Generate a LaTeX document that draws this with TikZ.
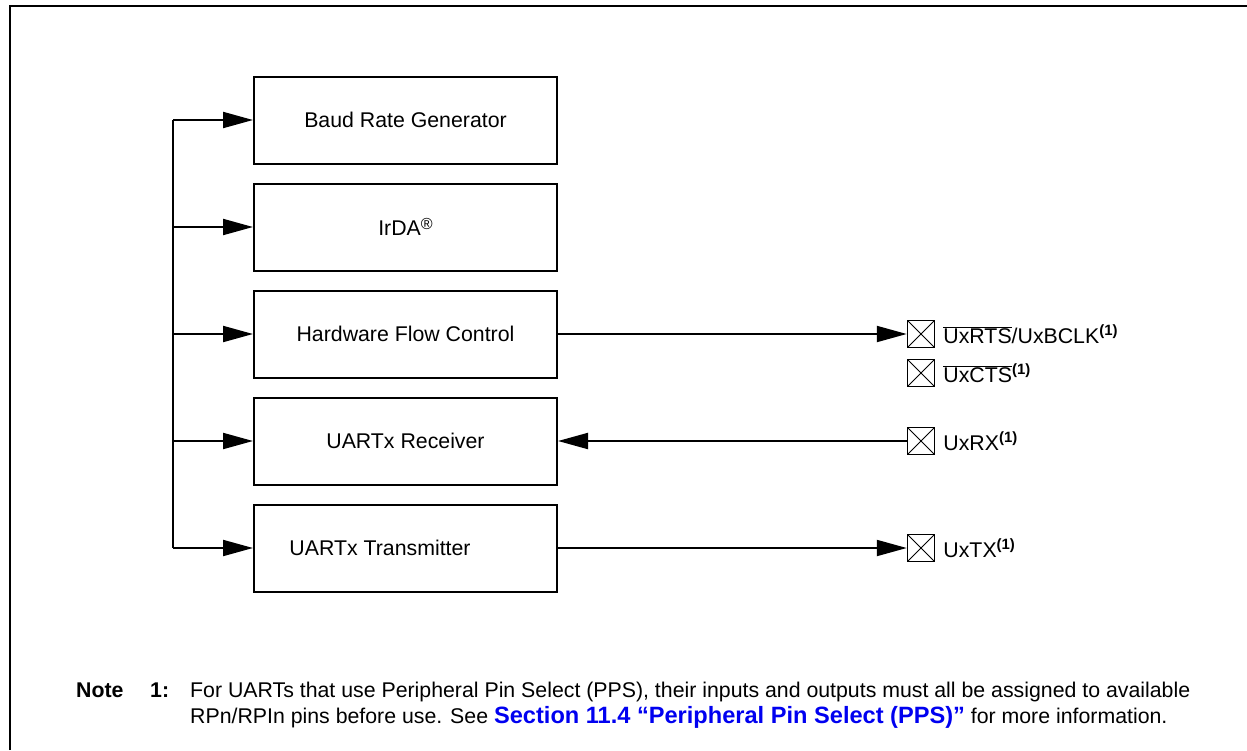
\documentclass[tikz,border=0pt]{standalone}
\usepackage{fontspec}
\setmainfont{Liberation Sans}
\usepackage{xcolor}
\usepackage{tikz}
\usetikzlibrary{arrows.meta,positioning}
\definecolor{cLink}{RGB}{0,0,240}
\newcommand{\fnote}{\textsuperscript{\textbf{(1)}}}

\begin{document}
\begin{tikzpicture}[x=1pt,y=-1pt,
  font=\fontsize{21.3}{25}\selectfont,
  blk/.style={draw,line width=2pt,minimum width=303pt,minimum height=87pt,inner sep=0pt},
  wire/.style={line width=2pt},
  sig/.style={line width=2pt,-{Triangle[length=30pt,width=16pt]}},
  pinbox/.style={draw,line width=1.5pt,minimum size=27pt,inner sep=0pt,
    path picture={\draw[line width=1pt] (path picture bounding box.north west) -- (path picture bounding box.south east)
      (path picture bounding box.south west) -- (path picture bounding box.north east);}},
  pinlbl/.style={right=8pt of #1,inner sep=0pt}]
  \useasboundingbox (0,0) rectangle (1247,750);
  % frame (cut off at right and bottom)
  \draw[line width=2pt] (10,750) -- (10,6) -- (1247,6);
  % blocks
  \node[blk] (brg) at (405.5,120) {Baud Rate Generator};
  \node[blk] (irda) at (405.5,227) {IrDA\raisebox{0.55ex}{\fontsize{16}{16}\selectfont\textregistered}};
  \node[blk] (hfc) at (405.5,334) {Hardware Flow Control};
  \node[blk] (rx) at (405.5,441) {UARTx Receiver};
  \node[blk] (tx) at (405.5,548) {\hspace*{-51pt}UARTx Transmitter};
  % bus on the left
  \coordinate (bus1) at (173,120);
  \coordinate (bus5) at (173,548);
  \draw[wire] (bus1) -- (bus5);
  \foreach \b in {brg,irda,hfc,rx,tx}
    \draw[sig] (bus1 |- \b.west) -- (\b.west);
  % pins
  \node[pinbox] (prts) at (921,334) {};
  \node[pinbox] (pcts) at (921,373) {};
  \node[pinbox] (prx) at (921,441) {};
  \node[pinbox] (ptx) at (921,548) {};
  \node[pinlbl=prts] (lrts) {$\overline{\hbox{UxRTS}}$/UxBCLK\fnote};
  \node[pinlbl=pcts] (lcts) {$\overline{\hbox{UxCTS}}$\fnote};
  \node[pinlbl=prx] (lrx) {UxRX\fnote};
  \node[pinlbl=ptx] (ltx) {UxTX\fnote};
  \draw[sig] (hfc.east) -- (prts.west);
  \draw[sig] (prx.west) -- (rx.east);
  \draw[sig] (tx.east) -- (ptx.west);
  % note
  \node[anchor=base west,inner sep=0pt] (nhd) at (76,697) {\textbf{Note}};
  \node[anchor=base west,inner sep=0pt] (nno) at (150,697) {\textbf{1:}};
  \node[anchor=base west,inner sep=0pt] (nl1) at (190,697) {For UARTs that use Peripheral Pin Select (PPS), their inputs and outputs must all be assigned to available};
  \node[anchor=base west,inner sep=0pt] (nl2) at (190,723) {RPn/RPIn pins before use. See {\color{cLink}\fontsize{23.6}{25}\selectfont\textbf{Section 11.4 “Peripheral Pin Select (PPS)”}} for more information.};
\end{tikzpicture}
\end{document}
